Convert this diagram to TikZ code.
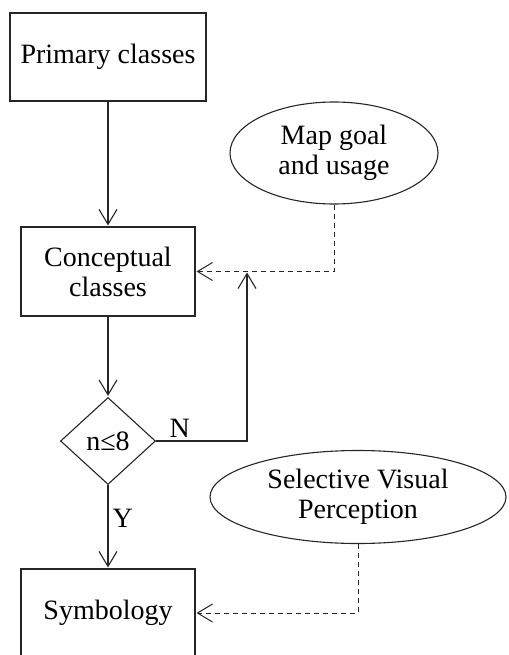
\documentclass[tikz,border=0pt]{standalone}
\usepackage{fontspec}
\setmainfont{Liberation Serif}
\usetikzlibrary{arrows.meta,shapes.geometric}

\begin{document}
\begin{tikzpicture}[x=1pt,y=-1pt,>={Straight Barb[length=15pt,width=18pt]},shorten >=1pt,auto,
	line width=1.1pt,draw=black!85,
	every node/.style={font=\fontsize{28}{30}\selectfont},
	box/.style={draw,rectangle,minimum width=174pt,minimum height=89pt,align=center},
	decision/.style={draw,diamond,minimum width=95pt,minimum height=87pt,inner sep=0pt},
	oval/.style={draw,ellipse,inner sep=0pt,align=center},
	hint/.style={dash pattern=on 5pt off 4pt,line width=1pt}]

\useasboundingbox (0,0) rectangle (508,655);
\clip (0,0) rectangle (508,655);

\node[box,minimum width=196pt,minimum height=88pt]   (prim)  at (108,57)     {Primary classes};
 \node[box]   (conc)  at (108,271.5)  {Conceptual\\classes};
	\node[decision]   (dec)  at (108,441)  {n≤8};
	\node[box,minimum height=88pt]   (sym)  at (108,613)  {Symbology};

\node[oval,minimum width=208pt,minimum height=102pt]  (goal)  at (334,153)  {Map goal\\and usage};
\node[oval,minimum width=296pt,minimum height=93pt]   (perc)  at (358,497)  {Selective Visual\\Perception};

\coordinate (join) at (247,271.5);


	\path[->] (prim)  edge  	(conc)
	
					(conc) edge  	(dec)
					
					(dec) edge  node[pos=0.4,inner sep=4pt]{Y} 		 	(sym);
					
	\draw[->] (dec.east) -| node[pos=0.13,above]{N} (join);
	
	\draw[->,hint] (goal.south) |- (conc.east);
	\draw[->,hint] (perc.south) |- (sym.east);

\end{tikzpicture}
\end{document}
